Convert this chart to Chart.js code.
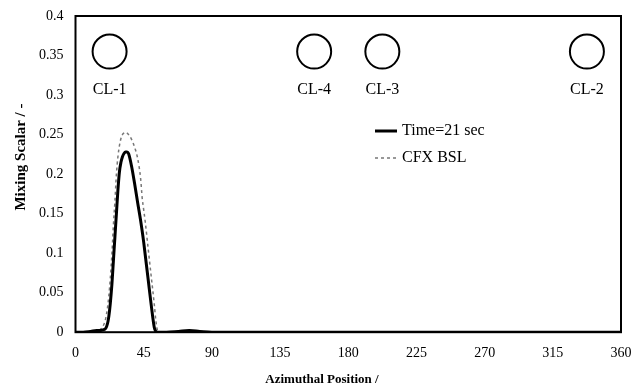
<!DOCTYPE html>
<html>
<head>
<meta charset="utf-8">
<script src="https://cdn.jsdelivr.net/npm/chart.js@4/dist/chart.umd.min.js"></script>
<style>
  html, body { margin: 0; padding: 0; background: #fff; }
  #wrap { position: relative; width: 631px; height: 391px; }
</style>
</head>
<body>
<div id="wrap"><canvas id="chart"></canvas></div>
<script>
// azimuthal position (deg) and mixing scalar
const azimuth = [0, 5, 10, 14, 16, 18, 20, 22, 24, 25, 26, 27, 28, 29, 30, 31, 32, 33, 34, 35, 37, 39, 41, 43, 44, 45, 46, 48, 50, 52, 53, 54, 55, 60, 68, 75, 82, 90, 135, 180, 225, 270, 315, 360];
const time21 = [0, 0, 0.001, 0.002, 0.002, 0.003, 0.005, 0.02, 0.06, 0.09, 0.12, 0.15, 0.18, 0.203, 0.215, 0.222, 0.226, 0.228, 0.228, 0.226, 0.21, 0.188, 0.164, 0.141, 0.128, 0.114, 0.098, 0.066, 0.034, 0.006, 0.001, 0, 0, 0, 0.001, 0.002, 0.001, 0, 0, 0, 0, 0, 0, 0];
const cfxBsl = [0, 0, 0.001, 0.002, 0.003, 0.007, 0.018, 0.046, 0.098, 0.135, 0.165, 0.2, 0.222, 0.236, 0.245, 0.25, 0.252, 0.253, 0.252, 0.25, 0.244, 0.234, 0.22, 0.194, 0.17, 0.155, 0.14, 0.105, 0.07, 0.035, 0.015, 0.003, 0, 0, 0.001, 0.002, 0.001, 0, 0, 0, 0, 0, 0, 0];

const loopNames = ['CL-1', 'CL-4', 'CL-3', 'CL-2'];
const loopAzimuth = [22.5, 157.5, 202.5, 337.5];
const loopMarkY = 0.355;
const loopLabelY = 0.307;

const xTicks = [0, 45, 90, 135, 180, 225, 270, 315, 360];
const yTicks = [0, 0.05, 0.1, 0.15, 0.2, 0.25, 0.3, 0.35, 0.4];

const SERIF = '"Liberation Serif", "DejaVu Serif", serif';

function pts(xs, ys) { return xs.map((x, i) => ({ x, y: ys[i] })); }

// frame, loop labels, legend and axis titles drawn on top
const overlay = {
  id: 'overlay',
  afterDraw(chart) {
    const { ctx, chartArea: a, scales: { x, y } } = chart;
    ctx.save();
    ctx.strokeStyle = '#000';
    ctx.lineWidth = 2;
    ctx.strokeRect(a.left, a.top, a.right - a.left, a.bottom - a.top);

    ctx.fillStyle = '#000';
    ctx.font = '16px ' + SERIF;
    ctx.textAlign = 'center';
    ctx.textBaseline = 'middle';
    loopNames.forEach((n, i) => ctx.fillText(n, x.getPixelForValue(loopAzimuth[i]), y.getPixelForValue(loopLabelY)));

    // legend
    const lx = 375, ly1 = 131, ly2 = 158;
    ctx.lineWidth = 3;
    ctx.beginPath(); ctx.moveTo(lx, ly1); ctx.lineTo(lx + 22, ly1); ctx.stroke();
    ctx.lineWidth = 1.5;
    ctx.strokeStyle = '#777';
    ctx.setLineDash([3, 3]);
    ctx.beginPath(); ctx.moveTo(lx, ly2); ctx.lineTo(lx + 22, ly2); ctx.stroke();
    ctx.setLineDash([]);
    ctx.textAlign = 'left';
    ctx.fillText('Time=21 sec', lx + 27, ly1);
    ctx.fillText('CFX BSL', lx + 27, ly2);

    ctx.textAlign = 'center';
    ctx.font = 'bold 13px ' + SERIF;
    ctx.fillText('Azimuthal Position /', 322, 380);
    ctx.translate(21, 157);
    ctx.rotate(-Math.PI / 2);
    ctx.font = 'bold 15px ' + SERIF;
    ctx.fillText('Mixing Scalar / -', 0, 0);
    ctx.restore();
  }
};

new Chart(document.getElementById('chart'), {
  type: 'scatter',
  data: {
    datasets: [
      { label: 'Time=21 sec', data: pts(azimuth, time21), showLine: true, borderColor: '#000', borderWidth: 3, pointRadius: 0, cubicInterpolationMode: 'monotone', order: 1 },
      { label: 'CFX BSL', data: pts(azimuth, cfxBsl), showLine: true, borderColor: '#777', borderWidth: 1.5, borderDash: [3, 3], pointRadius: 0, cubicInterpolationMode: 'monotone', order: 2 },
      { label: 'loops', data: loopAzimuth.map(a => ({ x: a, y: loopMarkY })), pointStyle: 'circle', pointRadius: 17, pointHoverRadius: 17, borderColor: '#000', borderWidth: 2, backgroundColor: 'rgba(0,0,0,0)' },
    ],
  },
  options: {
    responsive: true, maintainAspectRatio: false, animation: false,
    layout: { autoPadding: false, padding: { left: 27, right: 10, top: 16, bottom: 16 } },
    plugins: { legend: { display: false }, tooltip: { enabled: false } },
    scales: {
      x: {
        type: 'linear', min: 0, max: 360,
        afterBuildTicks: s => { s.ticks = xTicks.map(v => ({ value: v })); },
        afterFit: s => { s.paddingLeft = 0; s.paddingRight = 0; },
        grid: { display: false, drawTicks: false },
        border: { display: false },
        ticks: { color: '#000', font: { family: SERIF, size: 14 }, padding: 13, maxRotation: 0 },
      },
      y: {
        min: 0, max: 0.4,
        afterBuildTicks: s => { s.ticks = yTicks.map(v => ({ value: v })); },
        afterFit: s => { s.paddingTop = 0; s.paddingBottom = 0; },
        grid: { display: false, drawTicks: false },
        border: { display: false },
        ticks: { color: '#000', font: { family: SERIF, size: 14 }, padding: 12, callback: v => String(+v.toFixed(2)) },
      },
    },
  },
  plugins: [overlay],
});
</script>
</body>
</html>
